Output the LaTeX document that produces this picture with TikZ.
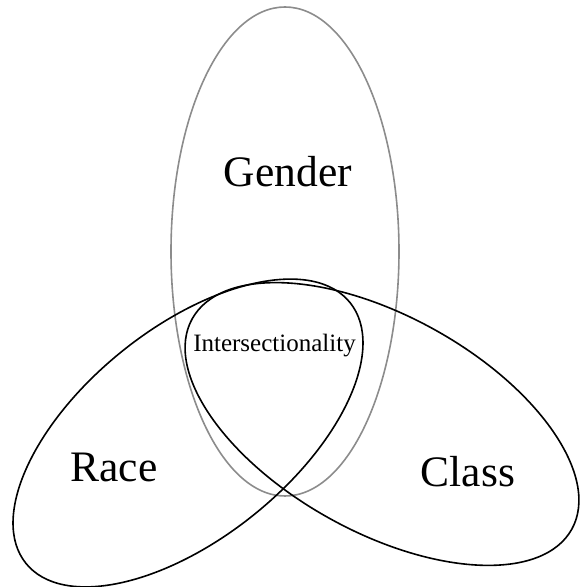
\documentclass[tikz,border=0pt]{standalone}
\usepackage{fontspec}
\setmainfont{Liberation Serif}
\usepackage{xcolor}

\begin{document}
\begin{tikzpicture}[x=1pt, y=1pt, set/.style={draw, line width=1.6pt}, label/.style={inner sep=0pt, font=\fontsize{43.5}{50}\selectfont}]
            \useasboundingbox (0,0) rectangle (580,587);

            \draw[set, black!45] (285,335.5) ellipse [x radius=114pt, y radius=244.5pt];
            \draw[set] (188,154) ellipse [x radius=208pt, y radius=105pt, rotate=38.8];
            \draw[set] (382,163) ellipse [x radius=217pt, y radius=108pt, rotate=-29];

            \node[label] (gender) at (288,415) {Gender};
            \node[label] (race) at (114,120) {Race};
            \node[label] (class) at (468,115) {Class};
            \node[label, font=\fontsize{25}{30}\selectfont] (inter) at (274.5,241) {Intersectionality};
        \end{tikzpicture}
\end{document}
